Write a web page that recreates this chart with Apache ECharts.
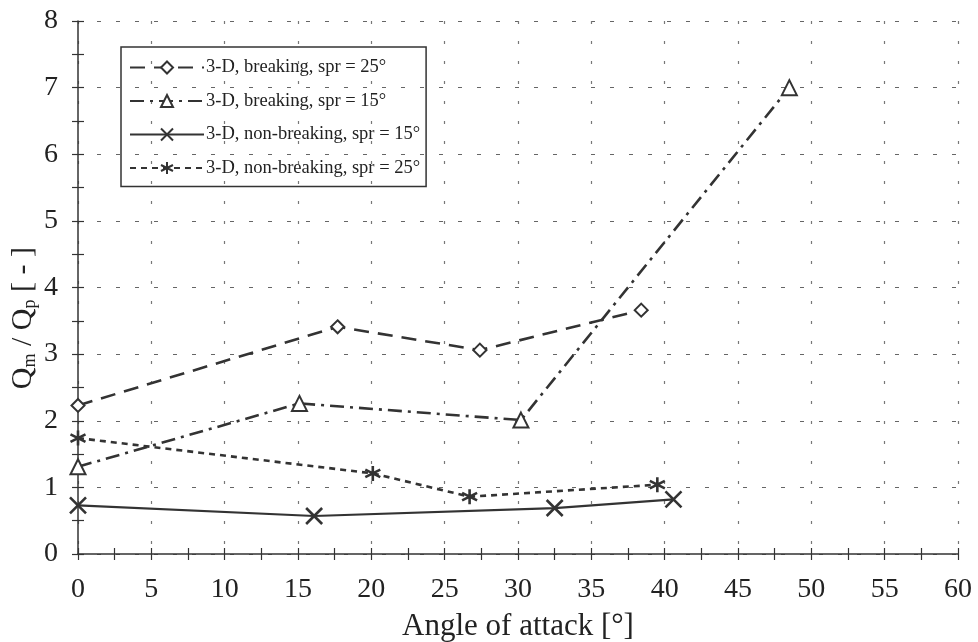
<!DOCTYPE html>
<html>
<head>
<meta charset="utf-8">
<script src="https://cdn.jsdelivr.net/npm/echarts@6/dist/echarts.min.js"></script>
<style>
  html, body { margin: 0; padding: 0; background: #fff; }
  #chart { width: 978px; height: 642px; }
</style>
</head>
<body>
<div id="chart"></div>
<script>
// values
var seriesNames = [
  "3-D, breaking, spr = 25°",
  "3-D, breaking, spr = 15°",
  "3-D, non-breaking, spr = 15°",
  "3-D, non-breaking, spr = 25°"
];
var angleBreak25 = [0, 17.7, 27.4, 38.4];
var ratioBreak25 = [2.23, 3.41, 3.06, 3.66];
var angleBreak15 = [0, 15.1, 30.2, 48.5];
var ratioBreak15 = [1.31, 2.26, 2.01, 7.0];
var angleNonBreak15 = [0, 16.1, 32.5, 40.6];
var ratioNonBreak15 = [0.73, 0.57, 0.69, 0.82];
var angleNonBreak25 = [0, 20.1, 26.7, 39.5];
var ratioNonBreak25 = [1.74, 1.21, 0.86, 1.04];

function pairs(xs, ys) {
  return xs.map(function (x, i) { return [x, ys[i]]; });
}

var ink = "#333";
var font = "Liberation Serif";
var crossSym = "path://M0,0L10,10M10,0L0,10";
var starSym = "path://M5,0L5,10M0.7,2.5L9.3,7.5M0.7,7.5L9.3,2.5";

var chart = echarts.init(document.getElementById("chart"));

// main axis draws ticks outward, the twin draws them inward (negative length) -> ticks cross the line
function xAxisCfg(main) {
  var len = main ? 6 : -6;
  return {
    type: "value", min: 0, max: 60, interval: 5, position: "bottom", offset: 0,
    axisLine: { show: true, onZero: false, lineStyle: { color: main ? ink : "rgba(0,0,0,0)", width: 1.5 } },
    axisTick: { show: true, length: len, lineStyle: { color: ink, width: 1.2 } },
    minorTick: { show: true, splitNumber: 2, length: len, lineStyle: { color: ink, width: 1.2 } },
    axisLabel: { show: main, margin: 22, fontFamily: font, fontSize: 28, color: "#222" },
    splitLine: { show: main, lineStyle: { color: "#777", type: [3, 17], width: 1.2 } },
    name: main ? "Angle of attack [°]" : "",
    nameLocation: "middle", nameGap: 57,
    nameTextStyle: { fontFamily: font, fontSize: 31, color: "#222" }
  };
}
function yAxisCfg(main) {
  var len = main ? 6 : -6;
  return {
    type: "value", min: 0, max: 8, interval: 1, position: "left", offset: 0,
    axisLine: { show: true, onZero: false, lineStyle: { color: main ? ink : "rgba(0,0,0,0)", width: 1.5 } },
    axisTick: { show: true, length: len, lineStyle: { color: ink, width: 1.2 } },
    minorTick: { show: true, splitNumber: 2, length: len, lineStyle: { color: ink, width: 1.2 } },
    axisLabel: { show: main, margin: 20, fontFamily: font, fontSize: 28, color: "#222" },
    splitLine: { show: main, lineStyle: { color: "#666", type: [4, 15], width: 1.2 } }
  };
}

var option = {
  animation: false,
  backgroundColor: "#fff",
  grid: { left: 78, right: 20, top: 21, bottom: 88, outerBoundsMode: "none", containLabel: false },
  xAxis: [xAxisCfg(true), xAxisCfg(false)],
  yAxis: [yAxisCfg(true), yAxisCfg(false)],
  legend: {
    orient: "vertical",
    left: 121, top: 47,
    padding: [11, 6, 9, 8],
    itemGap: 14.5,
    itemWidth: 74,
    itemHeight: 15,
    borderColor: ink,
    borderWidth: 1.5,
    textStyle: { fontFamily: font, fontSize: 18.5, color: "#222", padding: [0, 0, 0, -3] },
    data: seriesNames
  },
  graphic: [{
    type: "text",
    left: 8, top: 247,
    rotation: Math.PI / 2,
    style: {
      rich: {
        b: { fontFamily: font, fontSize: 30, fill: "#222" },
        s: { fontFamily: font, fontSize: 18, fill: "#222", padding: [14, 0, 0, 0] }
      },
      text: "{b|Q}{s|m}{b| / Q}{s|p}{b| [ - ]}"
    }
  }],
  series: [
    {
      name: seriesNames[0], type: "line", data: pairs(angleBreak25, ratioBreak25),
      symbol: "emptyDiamond", symbolSize: 13,
      lineStyle: { color: ink, width: 2.6, type: [15, 9] },
      itemStyle: { color: ink, borderWidth: 2 }
    },
    {
      name: seriesNames[1], type: "line", data: pairs(angleBreak15, ratioBreak15),
      symbol: "emptyTriangle", symbolSize: 15,
      lineStyle: { color: ink, width: 2.6, type: [14, 6, 3, 6] },
      itemStyle: { color: ink, borderWidth: 2.4 }
    },
    {
      name: seriesNames[2], type: "line", data: pairs(angleNonBreak15, ratioNonBreak15),
      symbol: crossSym, symbolSize: 16,
      lineStyle: { color: ink, width: 2.2, type: "solid" },
      itemStyle: { color: "#fff", borderColor: ink, borderWidth: 2.6 }
    },
    {
      name: seriesNames[3], type: "line", data: pairs(angleNonBreak25, ratioNonBreak25),
      symbol: starSym, symbolSize: 15,
      lineStyle: { color: ink, width: 2.6, type: [6, 5] },
      itemStyle: { color: "#fff", borderColor: ink, borderWidth: 2.6 }
    }
  ]
};
chart.setOption(option);
</script>
</body>
</html>
